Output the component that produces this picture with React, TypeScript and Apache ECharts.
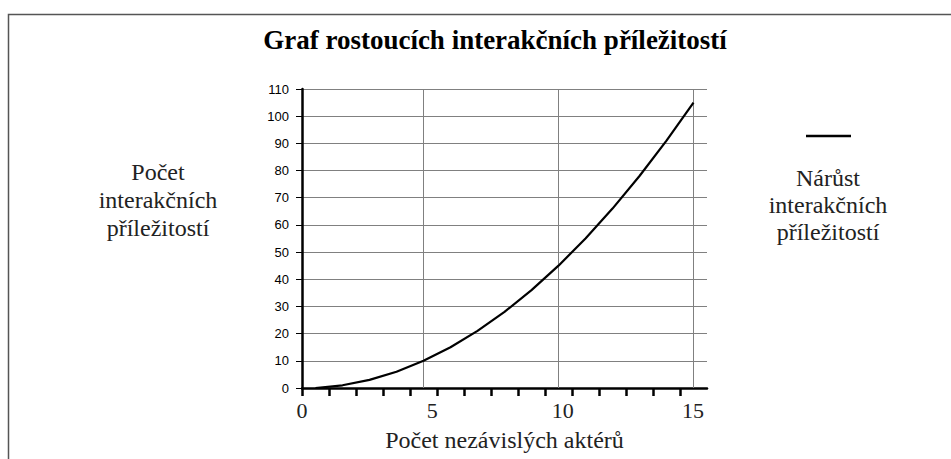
import React, { useEffect, useRef } from "react";
import * as echarts from "echarts";

const titleText = "Graf rostoucích interakčních příležitostí";
const yAxisName = "Počet\ninterakčních\npříležitostí";
const xAxisName = "Počet nezávislých aktérů";
const seriesName = "Nárůst\ninterakčních\npříležitostí";
const actors = ["1", "2", "3", "4", "5", "6", "7", "8", "9", "10", "11", "12", "13", "14", "15"];
const opportunities = [0, 1, 3, 6, 10, 15, 21, 28, 36, 45, 55, 66, 78, 91, 105];
const gridMarks = ["5", "10", "15"];
const xTickMin = 0;
const xTickMax = 15;
const xTickStep = 5;
const yMin = 0;
const yMax = 110;
const yStep = 10;

const serif = "'Liberation Serif', 'Times New Roman', serif";
const sans = "'Liberation Sans', Arial, sans-serif";

export default function App() {
  const ref = useRef<HTMLDivElement>(null);
  useEffect(() => {
    if (!ref.current) return;
    const chart = echarts.init(ref.current, null, { renderer: "svg" });
    chart.setOption({
      animation: false,
      backgroundColor: "#ffffff",
      title: {
        text: titleText,
        left: 490,
        top: 21,
        textAlign: "center",
        textStyle: { fontFamily: serif, fontWeight: "bold", fontSize: 27, color: "#000" },
      },
      graphic: [
        {
          type: "rect",
          shape: { x: 8.5, y: 14.5, width: 1000, height: 500 },
          style: { fill: "none", stroke: "#555", lineWidth: 1.5 },
          silent: true,
          z: -10,
        },
        {
          type: "text",
          x: 158,
          y: 200,
          style: {
            text: yAxisName,
            fontFamily: serif,
            fontSize: 24,
            lineHeight: 28,
            fill: "#222",
            align: "center",
            verticalAlign: "middle",
          },
        },
        {
          type: "line",
          shape: { x1: 806, y1: 136, x2: 851, y2: 136 },
          style: { stroke: "#000", lineWidth: 2.5 },
        },
        {
          type: "text",
          x: 828,
          y: 205,
          style: {
            text: seriesName,
            fontFamily: serif,
            fontSize: 24,
            lineHeight: 27,
            fill: "#222",
            align: "center",
            verticalAlign: "middle",
          },
        },
      ],
      grid: [
        { left: 302, top: 89, width: 405, height: 299, containLabel: false },
        { left: 302, top: 89, width: 391, height: 299, containLabel: false },
        { left: 302, top: 89, width: 378, height: 299, containLabel: false },
      ],
      xAxis: [
        {
          type: "category",
          gridIndex: 0,
          position: "bottom",
          data: actors,
          boundaryGap: true,
          axisLine: { onZero: false, lineStyle: { color: "#000", width: 2.5 } },
          axisTick: { show: false },
          axisLabel: { show: false },
          splitLine: { show: false },
          name: xAxisName,
          nameLocation: "middle",
          nameGap: 40,
          nameTextStyle: { fontFamily: serif, fontSize: 24, color: "#222" },
        },
        {
          type: "value",
          gridIndex: 1,
          position: "bottom",
          min: xTickMin,
          max: xTickMax,
          interval: xTickStep,
          axisLine: { show: false },
          axisTick: { show: false },
          splitLine: { show: false },
          axisLabel: { fontFamily: serif, fontSize: 22, color: "#222", margin: 11 },
        },
        {
          type: "value",
          gridIndex: 2,
          position: "bottom",
          min: 0,
          max: actors.length - 1,
          interval: 1,
          axisLine: { show: false, onZero: false },
          axisTick: { show: true, length: 8, lineStyle: { color: "#000", width: 2.5 } },
          axisLabel: { show: false },
          splitLine: { show: false },
        },
      ],
      yAxis: [
        {
          type: "value",
          gridIndex: 0,
          min: yMin,
          max: yMax,
          interval: yStep,
          axisLine: { show: true, onZero: false, lineStyle: { color: "#000", width: 2.5 } },
          axisTick: { show: true, length: 6, lineStyle: { color: "#000", width: 1 } },
          axisLabel: { fontFamily: sans, fontSize: 13, color: "#000", margin: 13 },
          splitLine: { show: true, lineStyle: { color: "#808080", width: 1 } },
        },
        { type: "value", gridIndex: 1, min: yMin, max: yMax, show: false },
        { type: "value", gridIndex: 2, min: yMin, max: yMax, show: false },
      ],
      series: [
        {
          name: seriesName,
          type: "line",
          xAxisIndex: 0,
          yAxisIndex: 0,
          data: opportunities,
          symbol: "none",
          lineStyle: { color: "#000", width: 2.2 },
          z: 5,
          markLine: {
            silent: true,
            symbol: "none",
            label: { show: false },
            lineStyle: { color: "#808080", width: 1, type: "solid" },
            data: gridMarks.map((m) => ({ xAxis: m })),
            z: 1,
          },
        },
      ],
    });
    return () => chart.dispose();
  }, []);
  return (
    <div
      ref={ref}
      style={{ position: "fixed", left: 0, top: 0, width: 951, height: 459, background: "#fff" }}
    />
  );
}
